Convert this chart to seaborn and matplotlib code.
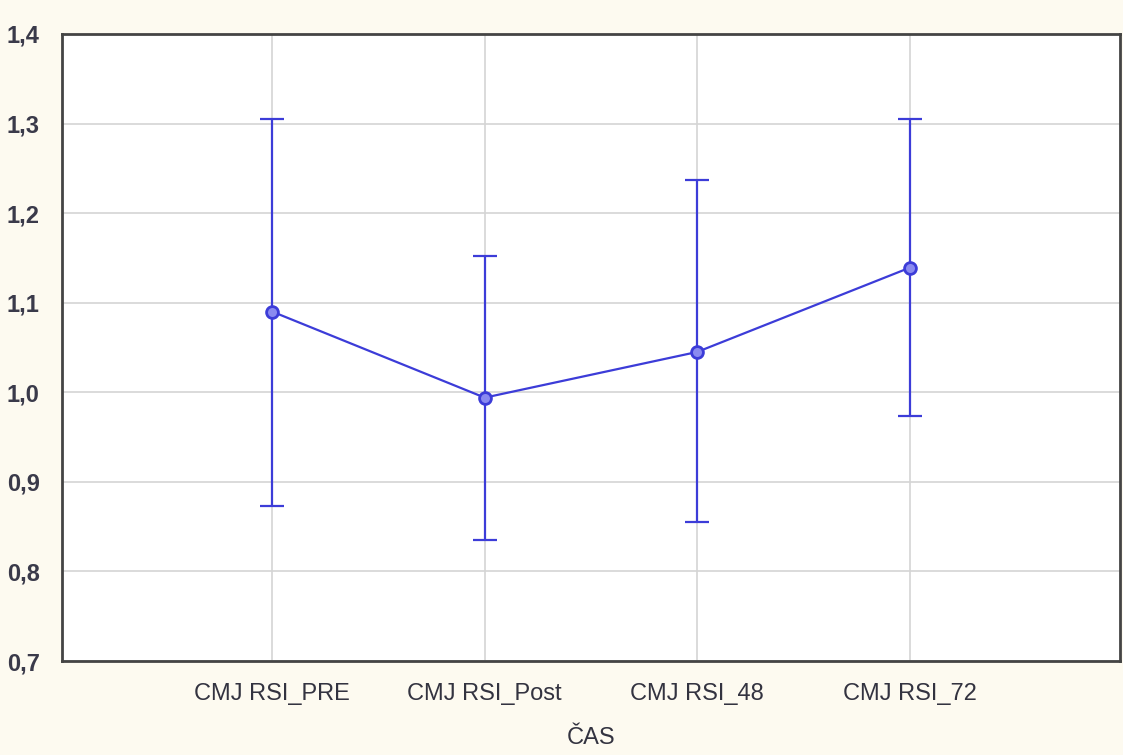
import numpy as np
import pandas as pd
import seaborn as sb
from matplotlib import pyplot as plt
from matplotlib.ticker import FuncFormatter

# * data
categories = ["CMJ RSI_PRE", "CMJ RSI_Post", "CMJ RSI_48", "CMJ RSI_72"]
means = [1.090, 0.994, 1.045, 1.139]
upper = [1.305, 1.152, 1.237, 1.305]
lower = [0.873, 0.835, 0.855, 0.973]

x_label = "ČAS"
y_ticks = [0.7, 0.8, 0.9, 1.0, 1.1, 1.2, 1.3, 1.4]

BLUE = "#3c3cd8"
BG = "#fdfaf0"

df = pd.DataFrame({"cas": categories, "mean": means, "upper": upper, "lower": lower})

sb.set_theme(style="white")
plt.rcParams["font.family"] = ["Liberation Sans", "DejaVu Sans"]

fig = plt.figure(figsize=(11.23, 7.55), dpi=100, facecolor=BG)
ax = fig.add_axes([0.0552, 0.1245, 0.942, 0.8305])
ax.set_facecolor("white")

sb.pointplot(
    data=df,
    x="cas",
    y="mean",
    errorbar=None,
    color=BLUE,
    markers="o",
    linewidth=1.6,
    markersize=8.5,
    markeredgewidth=2,
    markerfacecolor="#8a8af0",
    markeredgecolor=BLUE,
    ax=ax,
    zorder=3,
)

# * error bars from lower/upper bounds
pos = np.arange(len(categories))
yerr = [df["mean"] - df["lower"], df["upper"] - df["mean"]]
ax.errorbar(pos, df["mean"], yerr=yerr, fmt="none", ecolor=BLUE,
            elinewidth=1.6, capsize=8.6, capthick=1.6, zorder=2)

# * grid after pointplot (it switches the x grid off)
ax.set_axisbelow(True)
ax.grid(True, axis="both", color="#d4d4d4", linewidth=1.2)

ax.set_xlim(-0.99, 3.99)
ax.set_ylim(0.7, 1.4)
ax.set_yticks(y_ticks)
ax.yaxis.set_major_formatter(FuncFormatter(lambda v, _: f"{v:.1f}".replace(".", ",")))

ax.set_xlabel(x_label, fontsize=17, color="#333340", labelpad=16)
ax.set_ylabel("")
ax.tick_params(axis="x", labelsize=17, labelcolor="#333340", length=0, pad=16)
ax.tick_params(axis="y", labelsize=17, labelcolor="#3a3a4a", length=0, pad=16)
for lbl in ax.get_yticklabels():
    lbl.set_fontweight("bold")

for s in ax.spines.values():
    s.set_visible(True)
    s.set_color("#444444")
    s.set_linewidth(2)

fig.savefig("out.png", dpi=100, facecolor=BG)
plt.close()
